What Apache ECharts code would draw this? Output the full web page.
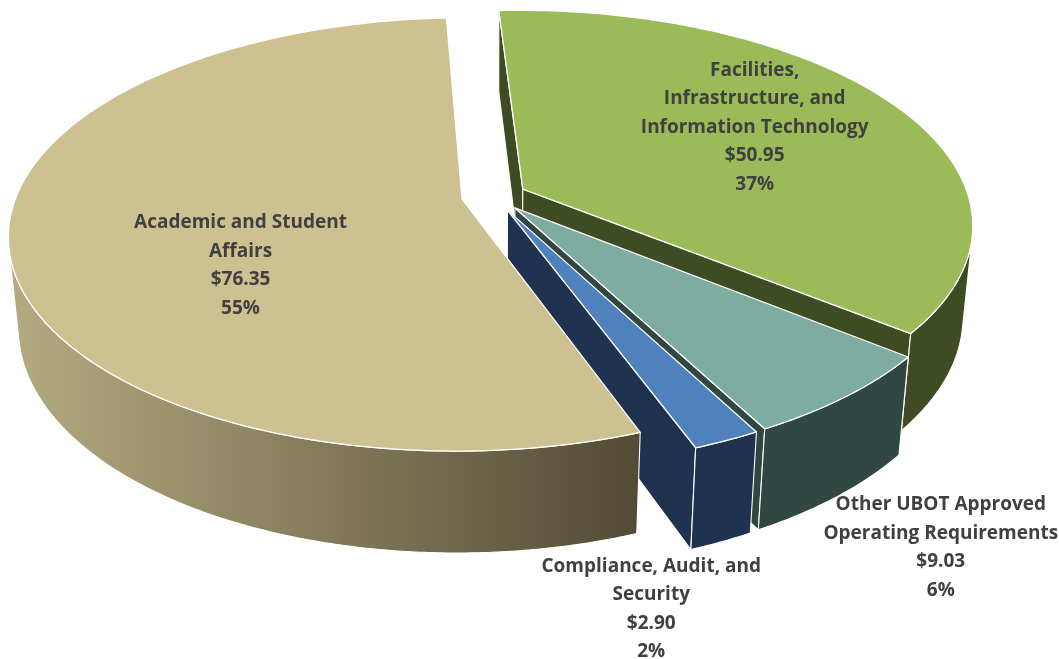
<!DOCTYPE html>
<html>
<head>
<meta charset="utf-8">
<title>Budget by Area</title>
<script src="https://cdn.jsdelivr.net/npm/echarts@6/dist/echarts.min.js"></script>
<style>
  html, body { margin: 0; padding: 0; background: #ffffff; }
  #chart { width: 1059px; height: 659px; }
</style>
</head>
<body>
<div id="chart"></div>
<script>
// Budget allocation by area, in $ millions (clockwise from the top)
const categories = [
  'Facilities,\nInfrastructure, and\nInformation Technology',
  'Other UBOT Approved\nOperating Requirements',
  'Compliance, Audit, and\nSecurity',
  'Academic and Student\nAffairs'
];
const amounts = [50.95, 9.03, 2.90, 76.35];

// Slice colours: top face, and side wall (left -> right shading)
const topColors = ['#9BBB59', '#7FACA0', '#4F81BD', '#CDC191'];
const sideColors = [
  ['#3F4B22', '#3F4B22'],
  ['#314741', '#314741'],
  ['#1F324F', '#1F324F'],
  ['#B4AB81', '#524B35']
];
// Where each label sits: angle shift from the slice middle (deg), distance in pie radii
const labelAnchors = [
  { dA: -2.1, r: 0.708 },
  { dA: 8.7, r: 1.535 },
  { dA: 14, r: 1.515 },
  { dA: -18.6, r: 0.625 }
];

// Perspective view of the tilted pie (pie radius = 1)
const view = {
  cx: 494, cy: 196, focal: 2420, dist: 5.43, tilt: 28.1,
  thickness: 0.235, explode: 0.073, startAngle: -3
};

const rad = d => d * Math.PI / 180;
const sinA = Math.sin(rad(view.tilt));
const cosA = Math.cos(rad(view.tilt));
const camera = [0, view.dist * sinA, -view.dist * cosA];
const total = amounts.reduce((a, b) => a + b, 0);

function project(X, Y, Z) {
  const yc = Y * cosA + Z * sinA;
  const dep = Z * cosA - Y * sinA;
  const s = view.focal / (view.dist + dep);
  return { p: [view.cx + X * s, view.cy - yc * s], dep: dep };
}

const seriesData = [];
let running = 0;
amounts.forEach((v, i) => {
  seriesData.push({ name: categories[i], value: [v, running] });
  running += v;
});

function wallStyle(i, pts) {
  const xs = pts.map(q => q[0]);
  const x0 = Math.min.apply(null, xs), x1 = Math.max.apply(null, xs);
  const fill = new echarts.graphic.LinearGradient(x0, 0, Math.max(x1, x0 + 1), 0, [
    { offset: 0, color: sideColors[i][0] },
    { offset: 1, color: sideColors[i][1] }
  ], true);
  return { fill: fill, stroke: '#ffffff', lineWidth: 1.1, lineJoin: 'round' };
}

function renderItem(params, api) {
  const i = params.dataIndex;
  const value = api.value(0);
  const before = api.value(1);
  const a1 = view.startAngle + before / total * 360;
  const a2 = a1 + value / total * 360;
  const am = (a1 + a2) / 2;
  const ox = view.explode * Math.sin(rad(am));
  const oz = view.explode * Math.cos(rad(am));
  const H = view.thickness;
  const rim = (a, y) => project(ox + Math.sin(rad(a)), y, oz + Math.cos(rad(a)));
  const tipTop = project(ox, 0, oz);
  const tipBot = project(ox, -H, oz);
  const zOf = dep => Math.round(600 - dep * 200);
  const children = [];

  // radial walls (start and end cuts), only when facing the viewer
  [[a1, -1], [a2, 1]].forEach(([a, sgn]) => {
    const nx = sgn * Math.cos(rad(a));
    const nz = -sgn * Math.sin(rad(a));
    const facing = nx * (camera[0] - ox) + nz * (camera[2] - oz);
    if (facing <= 0) return;
    const rt = rim(a, 0), rb = rim(a, -H);
    const pts = [tipTop.p, rt.p, rb.p, tipBot.p];
    const dep = (tipTop.dep + rt.dep + rb.dep + tipBot.dep) / 4;
    children.push({
      type: 'polygon', z2: zOf(dep),
      shape: { points: pts },
      style: { fill: sideColors[i][1], stroke: '#ffffff', lineWidth: 1.1, lineJoin: 'round' }
    });
  });

  // outer curved wall, front-facing runs only
  const steps = Math.max(4, Math.ceil((a2 - a1) / 0.5));
  let run = [];
  const runs = [];
  for (let k = 0; k <= steps; k++) {
    const a = a1 + (a2 - a1) * k / steps;
    const nx = Math.sin(rad(a)), nz = Math.cos(rad(a));
    const px = ox + nx, pz = oz + nz;
    const facing = nx * (camera[0] - px) + nz * (camera[2] - pz);
    if (facing > 0) {
      run.push(a);
    } else if (run.length) {
      runs.push(run); run = [];
    }
  }
  if (run.length) runs.push(run);
  runs.forEach(r => {
    if (r.length < 2) return;
    const tops = r.map(a => rim(a, 0));
    const bots = r.map(a => rim(a, -H));
    const pts = tops.map(t => t.p).concat(bots.map(b => b.p).reverse());
    const dep = tops.concat(bots).reduce((s, q) => s + q.dep, 0) / (tops.length * 2);
    children.push({
      type: 'polygon', z2: zOf(dep),
      shape: { points: pts },
      style: wallStyle(i, pts)
    });
  });

  // top face
  const n = Math.max(2, Math.ceil(a2 - a1));
  const topPts = [tipTop.p];
  for (let k = 0; k <= n; k++) {
    topPts.push(rim(a1 + (a2 - a1) * k / n, 0).p);
  }
  children.push({
    type: 'polygon', z2: 1000,
    shape: { points: topPts },
    style: { fill: topColors[i], stroke: '#ffffff', lineWidth: 1.3, lineJoin: 'round' }
  });

  // data label: name, amount, share
  const la = am + labelAnchors[i].dA;
  const lr = labelAnchors[i].r;
  const lp = project(Math.sin(rad(la)) * lr, 0, Math.cos(rad(la)) * lr).p;
  const pct = Math.round(value / total * 100);
  children.push({
    type: 'text', z2: 2000,
    style: {
      text: categories[i] + '\n$' + value.toFixed(2) + '\n' + pct + '%',
      x: lp[0], y: lp[1],
      align: 'center', verticalAlign: 'middle',
      fill: '#404040',
      font: 'bold 19px "Open Sans", Lato, sans-serif',
      lineHeight: 28.5
    }
  });

  return { type: 'group', children: children };
}

const chart = echarts.init(document.getElementById('chart'), null, { renderer: 'canvas' });
chart.setOption({
  animation: false,
  backgroundColor: '#ffffff',
  series: [{
    type: 'custom',
    coordinateSystem: 'none',
    renderItem: renderItem,
    data: seriesData
  }]
});
</script>
</body>
</html>
